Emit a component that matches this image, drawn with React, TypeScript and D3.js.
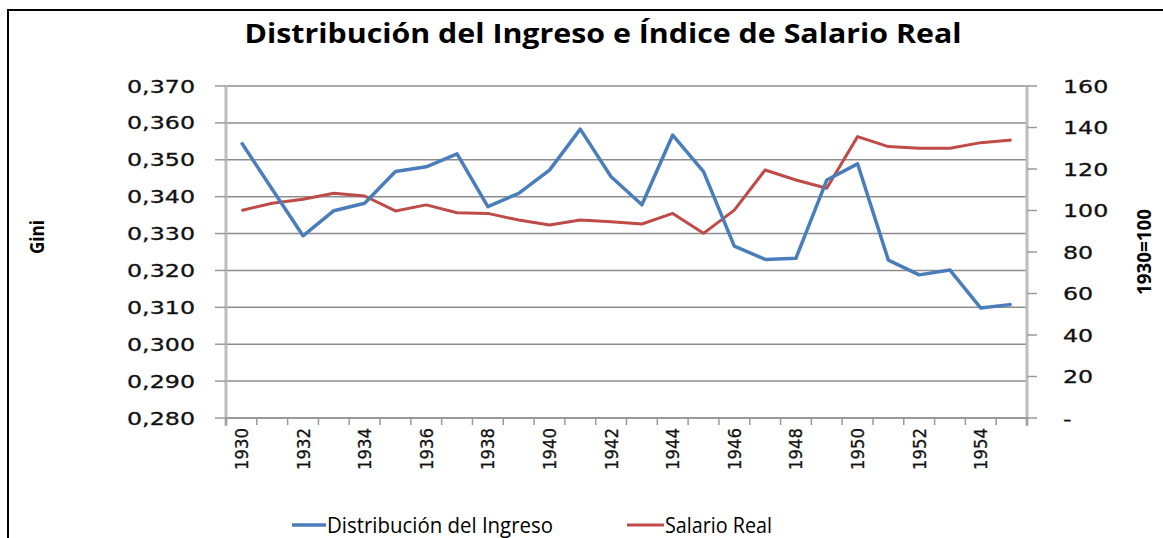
import React from "react";
import * as d3 from "d3";

const years = ["1930","1931","1932","1933","1934","1935","1936","1937","1938","1939","1940","1941","1942","1943","1944","1945","1946","1947","1948","1949","1950","1951","1952","1953","1954","1955"];
const gini = [0.3547,0.342,0.3294,0.3362,0.3382,0.3468,0.3481,0.3516,0.3373,0.3409,0.3472,0.3583,0.3454,0.3378,0.3567,0.3468,0.3266,0.3230,0.3233,0.3445,0.3489,0.3228,0.3188,0.3201,0.3098,0.3108];
const salario = [100,103.5,105.4,108.3,107,99.8,102.7,98.9,98.6,95.4,93,95.4,94.6,93.5,98.6,89,100.2,119.5,114.7,110.7,135.6,130.8,130,130,132.7,134];
const leftTicks = [0.28,0.29,0.30,0.31,0.32,0.33,0.34,0.35,0.36,0.37];
const rightTicks = [0,20,40,60,80,100,120,140,160];
const yearLabels = ["1930","1932","1934","1936","1938","1940","1942","1944","1946","1948","1950","1952","1954"];

const W = 1163, H = 538;
const L = 226, R = 1027, T = 86, B = 418;
const BLUE = "#4a7ebb";
const RED = "#be4b48";
const TICK_FONT = "'DejaVu Sans', Verdana, sans-serif";
const CAL_FONT = "'Open Sans', 'Liberation Sans', Arial, sans-serif";

export default function App() {
  const x = d3.scaleBand<string>().domain(years).range([L, R]).padding(0);
  const cx = (y: string) => (x(y) as number) + x.bandwidth() / 2;
  const yL = d3.scaleLinear().domain([0.28, 0.37]).range([B, T]);
  const yR = d3.scaleLinear().domain([0, 160]).range([B, T]);
  const lineG = d3.line<number>().x((_, i) => cx(years[i])).y((d) => yL(d));
  const lineS = d3.line<number>().x((_, i) => cx(years[i])).y((d) => yR(d));
  const fmtL = (v: number) => d3.format(".3f")(v).replace(".", ",");
  const boundaries = years.map((y) => x(y) as number).concat([R]);

  return (
    <svg width={W} height={H} style={{ position: "fixed", left: 0, top: 0, background: "#fff" }}>
      <rect x={0} y={0} width={W} height={H} fill="#fff" />
      <rect x={8} y={10} width={W + 20} height={H + 20} fill="none" stroke="#000" strokeWidth={2} />
      <text x={603} y={43} textAnchor="middle" fontFamily={CAL_FONT} fontWeight="bold" fontSize={26} textLength={717} lengthAdjust="spacingAndGlyphs" fill="#000">
        Distribución del Ingreso e Índice de Salario Real
      </text>

      {/* gridlines */}
      {leftTicks.slice(1).map((t) => (
        <line key={"g" + t} x1={L} x2={R} y1={yL(t)} y2={yL(t)} stroke="#8c8c8c" strokeWidth={1.5} />
      ))}
      {/* left axis */}
      <line x1={L} x2={L} y1={T - 1} y2={B + 8} stroke="#bdbdbd" strokeWidth={3} />
      {leftTicks.map((t) => (
        <line key={"lt" + t} x1={L - 11} x2={L} y1={yL(t)} y2={yL(t)} stroke="#9a9a9a" strokeWidth={1.5} />
      ))}
      {leftTicks.map((t) => (
        <text key={"ll" + t} transform={`translate(195,${yL(t) + 6.5}) scale(1.32,1)`} textAnchor="end" fontFamily={TICK_FONT} fontSize={18} fill="#111" stroke="#111" strokeWidth={0.3}>
          {fmtL(t)}
        </text>
      ))}
      {/* right axis */}
      <line x1={R} x2={R} y1={T - 1} y2={B + 8} stroke="#bdbdbd" strokeWidth={3} />
      {rightTicks.map((t) => (
        <line key={"rt" + t} x1={R} x2={R + 10} y1={yR(t)} y2={yR(t)} stroke="#9a9a9a" strokeWidth={1.5} />
      ))}
      {rightTicks.map((t) => (
        <text key={"rl" + t} transform={`translate(1063,${yR(t) + 6.5}) scale(1.32,1)`} textAnchor="start" fontFamily={TICK_FONT} fontSize={18} fill="#111" stroke="#111" strokeWidth={0.3}>
          {t === 0 ? "-" : String(t)}
        </text>
      ))}
      {/* x axis */}
      <line x1={L} x2={R} y1={B} y2={B} stroke="#9a9a9a" strokeWidth={2} />
      {boundaries.map((b, i) => (
        <line key={"xt" + i} x1={b} x2={b} y1={B} y2={B + 7} stroke="#9a9a9a" strokeWidth={1.5} />
      ))}
      {yearLabels.map((y) => (
        <text key={"yl" + y} transform={`translate(${cx(y) + 6.5},428) rotate(-90)`} textAnchor="end" fontFamily={TICK_FONT} fontSize={18} textLength={42} lengthAdjust="spacingAndGlyphs" fill="#111" stroke="#111" strokeWidth={0.3}>
          {y}
        </text>
      ))}

      {/* axis titles */}
      <text transform="translate(44,237) rotate(-90)" textAnchor="middle" fontFamily={CAL_FONT} fontWeight="bold" fontSize={20} textLength={34} lengthAdjust="spacingAndGlyphs" fill="#000">
        Gini
      </text>
      <text transform="translate(1151,252) rotate(-90)" textAnchor="middle" fontFamily={CAL_FONT} fontWeight="bold" fontSize={19} textLength={86} lengthAdjust="spacingAndGlyphs" fill="#000">
        1930=100
      </text>

      {/* series */}
      <path d={lineS(salario) || ""} fill="none" stroke={RED} strokeWidth={3} strokeLinejoin="round" />
      <path d={lineG(gini) || ""} fill="none" stroke={BLUE} strokeWidth={3.5} strokeLinejoin="round" />

      {/* legend */}
      <line x1={292} x2={326} y1={525} y2={525} stroke={BLUE} strokeWidth={3.5} />
      <text x={327} y={533} fontFamily={CAL_FONT} fontSize={21} textLength={226} lengthAdjust="spacingAndGlyphs" fill="#000">
        Distribución del Ingreso
      </text>
      <line x1={627} x2={664} y1={525} y2={525} stroke={RED} strokeWidth={3} />
      <text x={665} y={533} fontFamily={CAL_FONT} fontSize={21} textLength={107} lengthAdjust="spacingAndGlyphs" fill="#000">
        Salario Real
      </text>
    </svg>
  );
}
